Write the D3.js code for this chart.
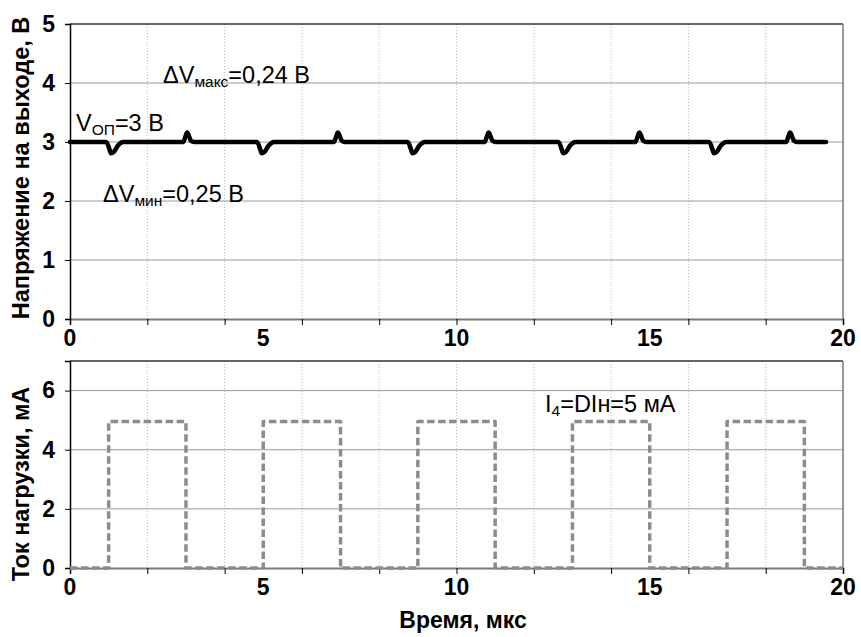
<!DOCTYPE html>
<html>
<head>
<meta charset="utf-8">
<script src="https://cdn.jsdelivr.net/npm/d3@7"></script>
<style>
  body { margin: 0; background: #fff; }
  svg { font-family: "Liberation Sans", Arial, sans-serif; }
</style>
</head>
<body>
<script>
// output voltage, V (time in us)
var voltTime = [0,
  0.94, 1.02, 1.06, 1.13, 1.24, 1.38,
  2.93, 2.99, 3.03, 3.08, 3.13, 3.21,
  4.84, 4.92, 4.96, 5.03, 5.14, 5.28,
  6.83, 6.89, 6.93, 6.98, 7.03, 7.11,
  8.74, 8.82, 8.86, 8.93, 9.04, 9.18,
  10.73, 10.79, 10.83, 10.88, 10.93, 11.01,
  12.64, 12.72, 12.76, 12.83, 12.94, 13.08,
  14.63, 14.69, 14.73, 14.78, 14.83, 14.91,
  16.54, 16.62, 16.66, 16.73, 16.84, 16.98,
  18.53, 18.59, 18.63, 18.68, 18.73, 18.81,
  19.56];
var voltValue = [3.0,
  3.0, 2.88, 2.81, 2.83, 2.94, 3.0,
  3.0, 3.1, 3.16, 3.1, 3.02, 3.0,
  3.0, 2.88, 2.81, 2.83, 2.94, 3.0,
  3.0, 3.1, 3.16, 3.1, 3.02, 3.0,
  3.0, 2.88, 2.81, 2.83, 2.94, 3.0,
  3.0, 3.1, 3.16, 3.1, 3.02, 3.0,
  3.0, 2.88, 2.81, 2.83, 2.94, 3.0,
  3.0, 3.1, 3.16, 3.1, 3.02, 3.0,
  3.0, 2.88, 2.81, 2.83, 2.94, 3.0,
  3.0, 3.1, 3.16, 3.1, 3.02, 3.0,
  3.0];

// load current, mA
var loadTime  = [0, 1, 1, 3, 3, 5, 5, 7, 7, 9, 9, 11, 11, 13, 13, 15, 15, 17, 17, 19, 19, 20];
var loadValue = [0, 0, 4.95, 4.95, 0, 0, 4.95, 4.95, 0, 0, 4.95, 4.95, 0, 0, 4.95, 4.95, 0, 0, 4.95, 4.95, 0, 0];

var xTicks = [0, 2, 4, 6, 8, 10, 12, 14, 16, 18, 20];
var xLabels = [0, 5, 10, 15, 20];
var voltTicks = [0, 1, 2, 3, 4, 5];
var loadTicks = [0, 2, 4, 6];

var width = 861, height = 637;
var left = 70, right = 843;

var svg = d3.select('body').append('svg')
  .attr('width', width)
  .attr('height', height);

var x = d3.scaleLinear().domain([0, 20]).range([left, right]);
var yV = d3.scaleLinear().domain([0, 5]).range([319, 24]);
var yI = d3.scaleLinear().domain([0, 7]).range([568, 361]);

function panel(y, yTicks, yMax, title, titleY) {
  var g = svg.append('g');
  var top = y(yMax), bottom = y(0);

  // vertical dotted grid
  g.selectAll('.vgrid').data(xTicks.slice(1, -1)).enter().append('line')
    .attr('x1', function(d) { return x(d); })
    .attr('x2', function(d) { return x(d); })
    .attr('y1', top).attr('y2', bottom)
    .attr('stroke', '#b8b8b8').attr('stroke-width', 1)
    .attr('stroke-dasharray', '1,2');

  // horizontal grid
  g.selectAll('.hgrid').data(yTicks.filter(function(d) { return d > 0 && d < yMax; })).enter().append('line')
    .attr('x1', left).attr('x2', right)
    .attr('y1', function(d) { return y(d); })
    .attr('y2', function(d) { return y(d); })
    .attr('stroke', '#9a9a9a').attr('stroke-width', 1);

  // frame
  g.append('line').attr('x1', left).attr('x2', right).attr('y1', top).attr('y2', top)
    .attr('stroke', '#333').attr('stroke-width', 1.5);
  g.append('line').attr('x1', right).attr('x2', right).attr('y1', top).attr('y2', bottom)
    .attr('stroke', '#777').attr('stroke-width', 1.5);

  // x axis
  var xAxis = g.append('g')
    .attr('transform', 'translate(0,' + bottom + ')')
    .call(d3.axisBottom(x).tickValues(xTicks).tickSize(6).tickFormat(''));
  xAxis.select('.domain').attr('stroke', '#7a7a7a').attr('stroke-width', 2);
  xAxis.selectAll('.tick line').attr('stroke', '#000');

  g.selectAll('.xlab').data(xLabels).enter().append('text')
    .attr('x', function(d) { return x(d); })
    .attr('y', bottom + 27)
    .attr('text-anchor', 'middle')
    .attr('font-size', 23).attr('font-weight', 'bold')
    .text(function(d) { return d; });

  // y axis
  var yAxis = g.append('g')
    .attr('transform', 'translate(' + left + ',0)')
    .call(d3.axisLeft(y).tickValues(yTicks).tickSize(5).tickPadding(10).tickFormat(d3.format('d')));
  yAxis.select('.domain').attr('stroke', '#000').attr('stroke-width', 1.5);
  yAxis.selectAll('.tick text').attr('font-size', 23).attr('font-weight', 'bold')
    .attr('font-family', '"Liberation Sans", Arial, sans-serif');

  g.append('text')
    .attr('transform', 'translate(29,' + titleY + ') rotate(-90)')
    .attr('text-anchor', 'middle')
    .attr('font-size', 23.5).attr('font-weight', 'bold')
    .text(title);
  return g;
}

panel(yV, voltTicks, 5, 'Напряжение на выходе, В', 168);
panel(yI, loadTicks, 7, 'Ток нагрузки, мА', 484);

// voltage trace
var voltLine = d3.line()
  .x(function(d, i) { return x(voltTime[i]); })
  .y(function(d) { return yV(d); })
  .curve(d3.curveMonotoneX);

svg.append('path')
  .datum(voltValue)
  .attr('d', voltLine)
  .attr('fill', 'none')
  .attr('stroke', '#000')
  .attr('stroke-width', 4.5)
  .attr('stroke-linecap', 'round')
  .attr('stroke-linejoin', 'round');

// load current trace
var loadLine = d3.line()
  .x(function(d, i) { return x(loadTime[i]); })
  .y(function(d) { return yI(d); });

svg.append('path')
  .datum(loadValue)
  .attr('d', loadLine)
  .attr('fill', 'none')
  .attr('stroke', '#8c8c8c')
  .attr('stroke-width', 3.5)
  .attr('stroke-dasharray', '7.5,3.5')
  .attr('stroke-linejoin', 'round');

// annotations
function note(px, py, main, sub, rest) {
  var t = svg.append('text')
    .attr('x', px).attr('y', py)
    .attr('font-size', 23.5);
  t.append('tspan').text(main);
  t.append('tspan').attr('font-size', 15.5).attr('dy', 4).text(sub);
  t.append('tspan').attr('dy', -4).text(rest);
}

note(163, 83, 'ΔV', 'макс', '=0,24 В');
note(76, 131, 'V', 'ОП', '=3 В');
note(103, 202, 'ΔV', 'мин', '=0,25 В');
note(545, 412, 'I', '4', '=DIн=5 мА');

svg.append('text')
  .attr('x', 463).attr('y', 628)
  .attr('text-anchor', 'middle')
  .attr('font-size', 23).attr('font-weight', 'bold')
  .text('Время, мкс');
</script>
</body>
</html>
